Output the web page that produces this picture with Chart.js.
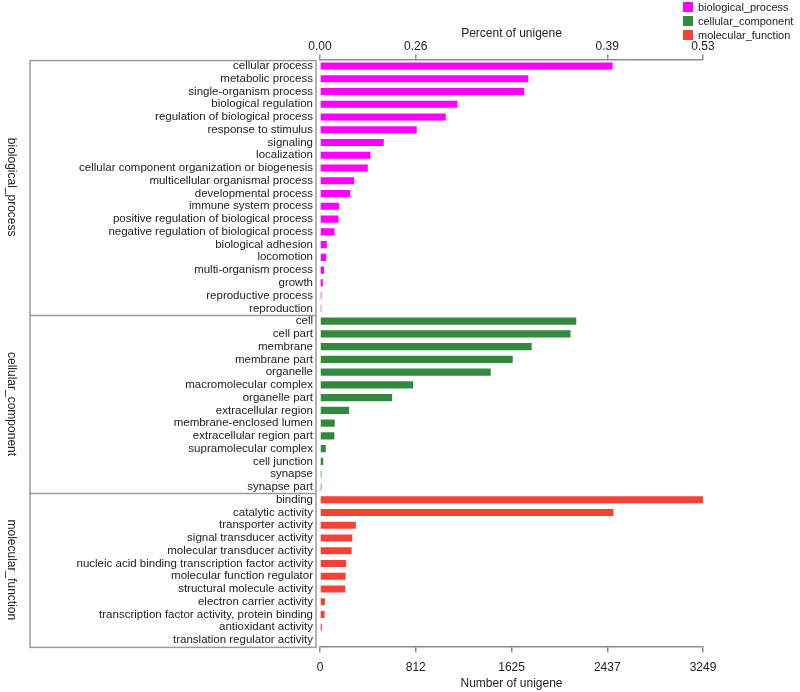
<!DOCTYPE html>
<html>
<head>
<meta charset="utf-8">
<script src="https://cdn.jsdelivr.net/npm/chart.js@4/dist/chart.umd.min.js"></script>
<style>
  body { margin: 0; background: #fff; }
  #wrap { width: 800px; height: 692px; position: relative; }
</style>
</head>
<body>
<div id="wrap"><canvas id="goChart"></canvas></div>
<script>
// GO categories and unigene counts
const bioLabels = ['cellular process', 'metabolic process', 'single-organism process', 'biological regulation',
    'regulation of biological process', 'response to stimulus', 'signaling', 'localization',
    'cellular component organization or biogenesis', 'multicellular organismal process', 'developmental process',
    'immune system process', 'positive regulation of biological process', 'negative regulation of biological process',
    'biological adhesion', 'locomotion', 'multi-organism process', 'growth', 'reproductive process', 'reproduction'];
const bioValues = [2482, 1768, 1732, 1166, 1067, 821, 541, 428, 405, 290, 256, 162, 157, 123, 58, 52, 35, 24, 12, 11];

const ccLabels = ['cell', 'cell part', 'membrane', 'membrane part', 'organelle', 'macromolecular complex',
    'organelle part', 'extracellular region', 'membrane-enclosed lumen', 'extracellular region part',
    'supramolecular complex', 'cell junction', 'synapse', 'synapse part'];
const ccValues = [2174, 2125, 1796, 1635, 1448, 790, 612, 247, 125, 122, 49, 27, 12, 12];

const mfLabels = ['binding', 'catalytic activity', 'transporter activity', 'signal transducer activity',
    'molecular transducer activity', 'nucleic acid binding transcription factor activity',
    'molecular function regulator', 'structural molecule activity', 'electron carrier activity',
    'transcription factor activity, protein binding', 'antioxidant activity', 'translation regulator activity'];
const mfValues = [3249, 2490, 304, 274, 268, 222, 218, 215, 42, 39, 16, 6];

const groupNames = ['biological_process', 'cellular_component', 'molecular_function'];
const groupColors = ['#ff00ff', '#338a3e', '#f44336'];

const numberTicks = [0, 812, 1625, 2437, 3249];
const percentTicks = [0, 812, 2437, 3249];
const percentTickLabels = ['0.00', '0.26', '0.39', '0.53'];

const FONT = '"Liberation Sans", Arial, Helvetica, sans-serif';
Chart.defaults.font.family = FONT;
Chart.defaults.font.size = 12;
Chart.defaults.color = '#222';

const allLabels = [...bioLabels, ...ccLabels, ...mfLabels];
const groups = [bioValues, ccValues, mfValues];

// one dataset per GO group, padded with nulls so the bars stack into single rows
let offset = 0;
const datasets = groups.map((vals, g) => {
    const data = allLabels.map(() => null);
    vals.forEach((v, i) => { data[offset + i] = v; });
    offset += vals.length;
    return {
        label: groupNames[g],
        data: data,
        backgroundColor: groupColors[g],
        categoryPercentage: 1,
        barPercentage: 0.56
    };
});

const axisGray = '#8c8c8c';

// draws the grouped box on the left, the rotated group names and the legend
const groupBoxPlugin = {
    id: 'groupBox',
    afterDraw(chart) {
        const ctx = chart.ctx;
        const y = chart.scales.y;
        const step = y.getPixelForValue(1) - y.getPixelForValue(0);
        const boxLeft = 30, boxRight = 316;
        const starts = [0, bioValues.length, bioValues.length + ccValues.length, allLabels.length];
        const edges = starts.map(i => y.getPixelForValue(i) - step / 2);
        ctx.save();
        ctx.strokeStyle = '#9a9a9a';
        ctx.lineWidth = 1.5;
        ctx.strokeRect(boxLeft, edges[0] + 1, boxRight - boxLeft, edges[3] - edges[0]);
        ctx.beginPath();
        for (let i = 1; i < 3; i++) {
            ctx.moveTo(boxLeft, Math.round(edges[i]) + 0.5);
            ctx.lineTo(boxRight, Math.round(edges[i]) + 0.5);
        }
        ctx.stroke();

        ctx.fillStyle = '#222';
        ctx.font = '12px ' + FONT;
        ctx.textAlign = 'center';
        ctx.textBaseline = 'middle';
        for (let i = 0; i < 3; i++) {
            ctx.save();
            ctx.translate(11, (edges[i] + edges[i + 1]) / 2);
            ctx.rotate(Math.PI / 2);
            ctx.fillText(groupNames[i], 0, 0);
            ctx.restore();
        }

        // legend, top right
        ctx.textAlign = 'left';
        ctx.font = '11px ' + FONT;
        for (let i = 0; i < 3; i++) {
            const ly = 7 + i * 14;
            ctx.fillStyle = groupColors[i];
            ctx.fillRect(683, ly - 5, 10, 10);
            ctx.fillStyle = '#222';
            ctx.fillText(groupNames[i], 698, ly + 0.5);
        }
        ctx.restore();
    }
};

new Chart(document.getElementById('goChart'), {
    type: 'bar',
    data: { labels: allLabels, datasets: datasets },
    options: {
        indexAxis: 'y',
        responsive: true,
        maintainAspectRatio: false,
        animation: false,
        layout: { padding: { left: 0, right: 97, top: 26, bottom: 0 } },
        plugins: { legend: { display: false }, tooltip: { enabled: false } },
        scales: {
            y: {
                stacked: true,
                grid: { display: false },
                border: { display: false },
                ticks: { autoSkip: false, padding: -1, color: '#222', font: { size: 11.5 } },
                afterFit(s) { s.width = 320; }
            },
            x: {
                stacked: true,
                position: 'bottom',
                min: 0,
                max: 3249,
                afterBuildTicks(s) { s.ticks = numberTicks.map(v => ({ value: v })); },
                grid: { drawOnChartArea: false, tickLength: 6, color: axisGray, lineWidth: 1.5 },
                border: { color: axisGray, width: 1.5 },
                ticks: { padding: 8, color: '#222', callback: v => String(v) },
                title: { display: true, text: 'Number of unigene', color: '#222', font: { size: 12 }, padding: { top: 4, bottom: 1 } },
                afterFit(s) { s.height = 45.6; }
            },
            x2: {
                position: 'top',
                min: 0,
                max: 3249,
                afterBuildTicks(s) { s.ticks = percentTicks.map(v => ({ value: v })); },
                grid: { drawOnChartArea: false, tickLength: 5, color: axisGray, lineWidth: 1.5 },
                border: { color: axisGray, width: 1.5 },
                ticks: {
                    padding: 1, color: '#222',
                    callback: (v, i) => percentTickLabels[i]
                },
                title: { display: true, text: 'Percent of unigene', color: '#222', font: { size: 12 }, padding: { top: 0, bottom: 0 } },
                afterFit(s) { s.height = 33.6; }
            }
        }
    },
    plugins: [groupBoxPlugin]
});
</script>
</body>
</html>
